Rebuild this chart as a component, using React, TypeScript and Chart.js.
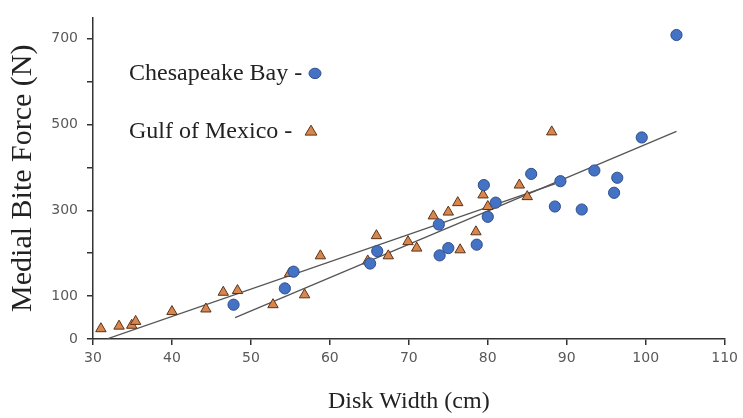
import React, { useEffect, useRef } from "react";
import { Chart, registerables } from "chart.js";

Chart.register(...registerables);

// ---- Data ----
const chesapeakeX = [47.8, 54.3, 55.4, 65.1, 66.0, 73.8, 73.9, 75.0, 78.6, 80.0, 81.0, 79.5, 85.5, 88.5, 91.9, 96.0, 89.2, 93.5, 96.4, 99.5, 103.9];
const chesapeakeY = [80, 118, 157, 176, 205, 267, 195, 212, 220, 285, 318, 359, 385, 309, 302, 341, 368, 393, 376, 470, 709];

const gulfX = [31.0, 33.3, 34.9, 35.4, 40.0, 44.3, 46.5, 48.3, 52.8, 54.9, 56.8, 58.8, 64.8, 65.9, 67.4, 69.9, 71.0, 73.1, 75.0, 76.2, 76.5, 78.5, 79.4, 80.0, 84.0, 85.0, 88.1];
const gulfY = [24, 30, 32, 41, 64, 70, 109, 113, 80, 153, 103, 194, 182, 241, 194, 227, 212, 287, 296, 318, 208, 250, 336, 309, 359, 332, 483];

// Trend line end points
const chesapeakeTrendX = [48.0, 103.9];
const chesapeakeTrendY = [50, 484];
const gulfTrendX = [31.9, 88.5];
const gulfTrendY = [1, 362];

const xTicks = [30, 40, 50, 60, 70, 80, 90, 100, 110];
const yLabeledTicks = [0, 100, 300, 500, 700];

const seriesNames = ["Chesapeake Bay", "Gulf of Mexico"];
const xTitle = "Disk Width (cm)";
const yTitle = "Medial Bite Force (N)";

const BLUE = "#4472C4";
const BLUE_BORDER = "#2F4F8A";
const ORANGE = "#D9864E";
const ORANGE_BORDER = "#5A3318";
const LINE = "#555555";
const SERIF = '"Liberation Serif", "Times New Roman", serif';

const toPoints = (xs: number[], ys: number[]) => xs.map((x, i) => ({ x, y: ys[i] }));

const legendPlugin = {
  id: "inlineLegend",
  afterDatasetsDraw(chart: any) {
    const { ctx, chartArea } = chart;
    const left = chartArea.left + 36;
    const top = chartArea.top;
    ctx.save();
    ctx.font = "24px " + SERIF;
    ctx.fillStyle = "#222";
    ctx.textBaseline = "middle";
    ctx.textAlign = "left";
    ctx.fillText(seriesNames[0] + " -", left, top + 56);
    ctx.fillText(seriesNames[1] + " -", left, top + 114);

    // circle marker
    ctx.beginPath();
    ctx.ellipse(left + 186, top + 56, 6, 5.2, 0, 0, Math.PI * 2);
    ctx.fillStyle = BLUE;
    ctx.fill();
    ctx.lineWidth = 1;
    ctx.strokeStyle = BLUE_BORDER;
    ctx.stroke();

    // triangle marker
    const cx = left + 182;
    const cy = top + 114;
    const r = 6.2;
    ctx.beginPath();
    ctx.moveTo(cx, cy - r);
    ctx.lineTo(cx + r * 0.95, cy + r * 0.6);
    ctx.lineTo(cx - r * 0.95, cy + r * 0.6);
    ctx.closePath();
    ctx.fillStyle = ORANGE;
    ctx.fill();
    ctx.strokeStyle = ORANGE_BORDER;
    ctx.stroke();
    ctx.restore();
  },
};

export default function App() {
  const canvasRef = useRef<HTMLCanvasElement | null>(null);

  useEffect(() => {
    if (!canvasRef.current) return;
    Chart.defaults.font.family = '"DejaVu Sans", Verdana, sans-serif';
    const chart = new Chart(canvasRef.current, {
      type: "scatter",
      data: {
        datasets: [
          {
            label: seriesNames[0] + " trend",
            type: "line",
            data: toPoints(chesapeakeTrendX, chesapeakeTrendY),
            borderColor: LINE,
            borderWidth: 1.3,
            pointRadius: 0,
            fill: false,
            order: 3,
          } as any,
          {
            label: seriesNames[1] + " trend",
            type: "line",
            data: toPoints(gulfTrendX, gulfTrendY),
            borderColor: LINE,
            borderWidth: 1.3,
            pointRadius: 0,
            fill: false,
            order: 3,
          } as any,
          {
            label: seriesNames[1],
            data: toPoints(gulfX, gulfY),
            pointStyle: "triangle",
            pointRadius: 6,
            backgroundColor: ORANGE,
            borderColor: ORANGE_BORDER,
            borderWidth: 1,
            order: 2,
          },
          {
            label: seriesNames[0],
            data: toPoints(chesapeakeX, chesapeakeY),
            pointStyle: "circle",
            pointRadius: 5.6,
            backgroundColor: BLUE,
            borderColor: BLUE_BORDER,
            borderWidth: 1,
            order: 1,
          },
        ],
      },
      options: {
        animation: false,
        responsive: true,
        maintainAspectRatio: false,
        layout: { padding: { top: 10, right: 18, left: 0, bottom: 0 } },
        plugins: {
          legend: { display: false },
          tooltip: { enabled: false },
        },
        scales: {
          x: {
            type: "linear",
            min: xTicks[0],
            max: xTicks[xTicks.length - 1],
            afterFit: (s: any) => {
              s.height = 79;
            },
            afterBuildTicks: (s: any) => {
              s.ticks = xTicks.map((v) => ({ value: v }));
            },
            ticks: {
              stepSize: 10,
              color: "#595959",
              font: { size: 14 },
              padding: 5,
              maxRotation: 0,
            },
            grid: {
              display: true,
              drawOnChartArea: false,
              drawTicks: true,
              tickLength: 6,
              color: "#333",
              lineWidth: 1.5,
            },
            border: { display: true, color: "#333", width: 1.5 },
            title: {
              display: true,
              text: xTitle,
              color: "#222",
              font: { family: SERIF, size: 24 },
              padding: { top: 0, bottom: 2 },
            },
          },
          y: {
            type: "linear",
            min: 0,
            max: 750,
            afterFit: (s: any) => {
              s.width = 93;
            },
            afterBuildTicks: (s: any) => {
              s.ticks = s.ticks.filter((t: any) => t.value % 100 === 0);
            },
            ticks: {
              stepSize: 100,
              color: "#595959",
              font: { size: 14 },
              padding: 9,
              callback: (v: any) => (yLabeledTicks.includes(Number(v)) ? String(v) : ""),
            },
            grid: {
              display: true,
              drawOnChartArea: false,
              drawTicks: true,
              tickLength: 6,
              color: "#333",
              lineWidth: 1.5,
            },
            border: { display: true, color: "#333", width: 1.5 },
            title: {
              display: true,
              text: yTitle,
              color: "#222",
              font: { family: SERIF, size: 30 },
              padding: { top: 5, bottom: 0 },
            },
          },
        },
      },
      plugins: [legendPlugin],
    });
    return () => chart.destroy();
  }, []);

  return (
    <div
      style={{
        position: "fixed",
        left: 0,
        top: 0,
        width: 743,
        height: 418,
        background: "#fff",
      }}
    >
      <canvas ref={canvasRef} />
    </div>
  );
}
